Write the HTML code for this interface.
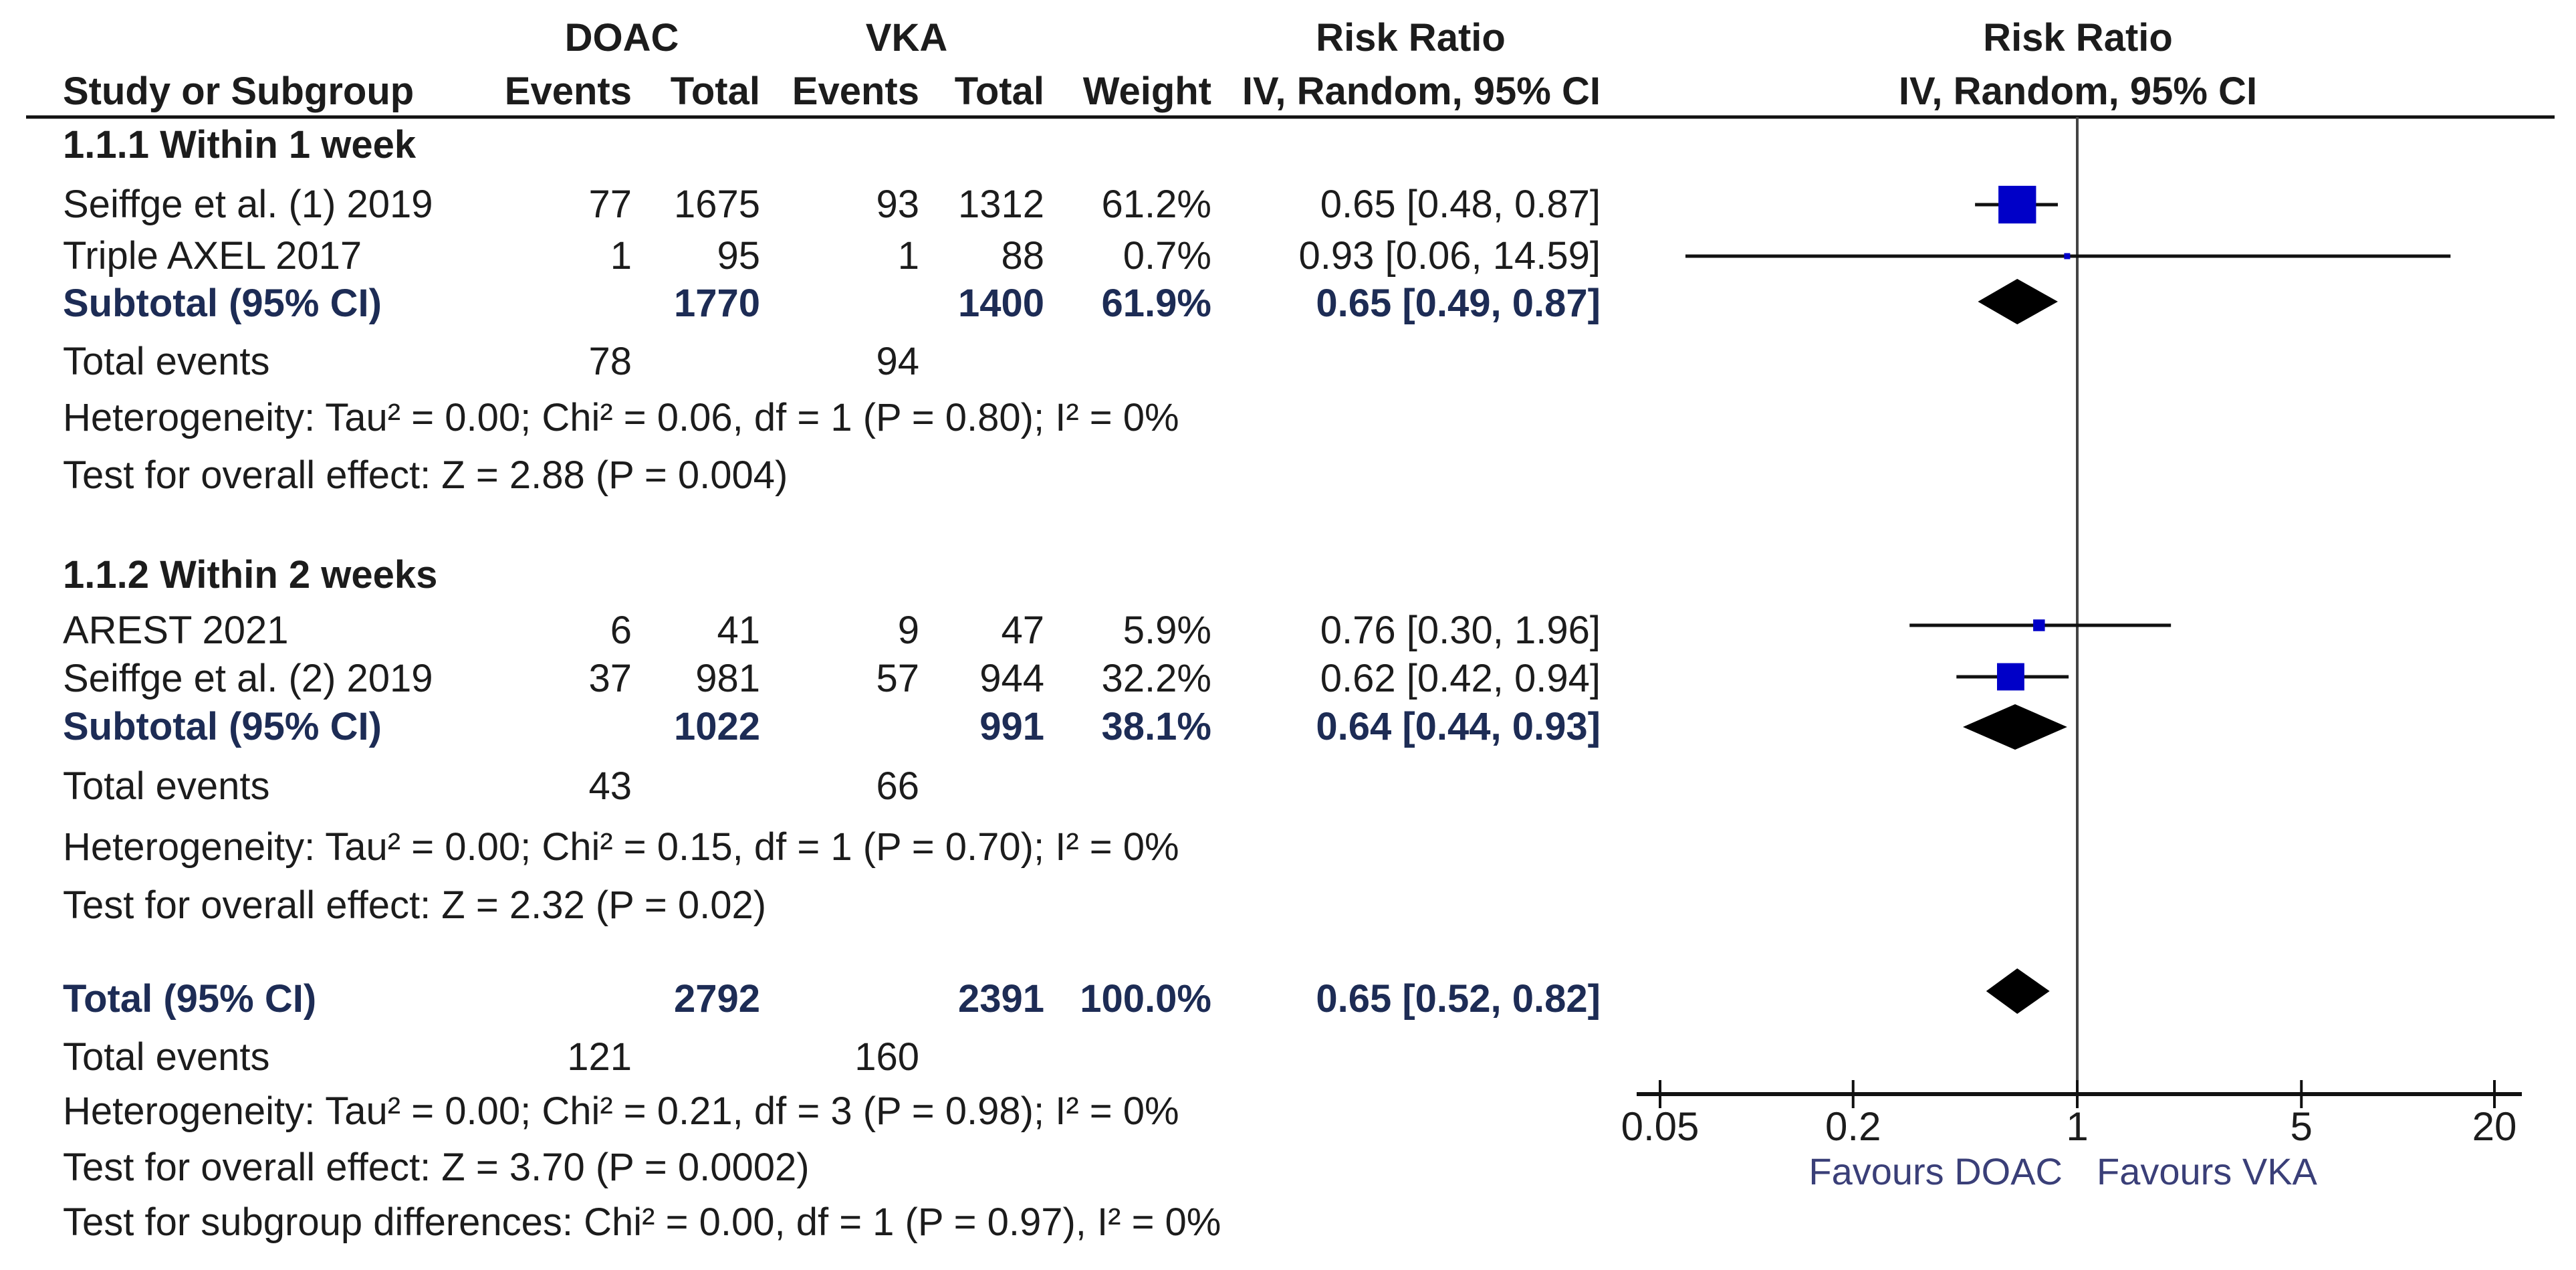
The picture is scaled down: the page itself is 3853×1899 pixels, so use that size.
<!DOCTYPE html>
<html><head><meta charset="utf-8"><style>
html,body{margin:0;padding:0;background:#fff;}
#root{position:relative;width:3853px;height:1899px;overflow:hidden;font-family:"Liberation Sans",Arial,sans-serif;font-size:58px;color:#1c1c1c;}
.t{position:absolute;white-space:nowrap;line-height:66px;height:66px;}
.b{font-weight:bold;}
.s{font-weight:bold;color:#1d2c55;}
.c{transform:translateX(-50%);}
svg{position:absolute;left:0;top:0;}
</style></head><body>
<div id="root">
<svg id="plot" width="3853" height="1899"></svg>
</div>
<script>
// ---- data ----
const studies = ["Seiffge et al. (1) 2019","Triple AXEL 2017","AREST 2021","Seiffge et al. (2) 2019"];
const studyRR = [0.65,0.93,0.76,0.62];
const studyLo = [0.48,0.06,0.30,0.42];
const studyHi = [0.87,14.59,1.96,0.94];
const studyWeight = [61.2,0.7,5.9,32.2];
const studyRowY = [306,383,935,1012];
const pooledNames = ["Subtotal 1.1.1","Subtotal 1.1.2","Total"];
const pooledRR = [0.65,0.64,0.65];
const pooledLo = [0.49,0.44,0.52];
const pooledHi = [0.87,0.93,0.82];
const pooledRowY = [451,1087,1482];
const tickValues = [0.05,0.2,1,5,20];
const tickLabels = ["0.05","0.2","1","5","20"];

// table text rows: [text, x, y, align, cls]
const rows = [
 ["DOAC",930,57,"c","b"],["VKA",1356,57,"c","b"],["Risk Ratio",2110,57,"c","b"],["Risk Ratio",3108,57,"c","b"],
 ["Study or Subgroup",94,137,"l","b"],["Events",945,137,"r","b"],["Total",1137,137,"r","b"],["Events",1375,137,"r","b"],["Total",1562,137,"r","b"],["Weight",1812,137,"r","b"],["IV, Random, 95% CI",2394,137,"r","b"],["IV, Random, 95% CI",3108,137,"c","b"],
 ["1.1.1 Within 1 week",94,217,"l","b"],
 ["Seiffge et al. (1) 2019",94,306,"l",""],["77",945,306,"r",""],["1675",1137,306,"r",""],["93",1375,306,"r",""],["1312",1562,306,"r",""],["61.2%",1812,306,"r",""],["0.65 [0.48, 0.87]",2394,306,"r",""],
 ["Triple AXEL 2017",94,383,"l",""],["1",945,383,"r",""],["95",1137,383,"r",""],["1",1375,383,"r",""],["88",1562,383,"r",""],["0.7%",1812,383,"r",""],["0.93 [0.06, 14.59]",2394,383,"r",""],
 ["Subtotal (95% CI)",94,454,"l","s"],["1770",1137,454,"r","s"],["1400",1562,454,"r","s"],["61.9%",1812,454,"r","s"],["0.65 [0.49, 0.87]",2394,454,"r","s"],
 ["Total events",94,541,"l",""],["78",945,541,"r",""],["94",1375,541,"r",""],
 ["Heterogeneity: Tau² = 0.00; Chi² = 0.06, df = 1 (P = 0.80); I² = 0%",94,625,"l",""],
 ["Test for overall effect: Z = 2.88 (P = 0.004)",94,711,"l",""],
 ["1.1.2 Within 2 weeks",94,860,"l","b"],
 ["AREST 2021",94,943,"l",""],["6",945,943,"r",""],["41",1137,943,"r",""],["9",1375,943,"r",""],["47",1562,943,"r",""],["5.9%",1812,943,"r",""],["0.76 [0.30, 1.96]",2394,943,"r",""],
 ["Seiffge et al. (2) 2019",94,1015,"l",""],["37",945,1015,"r",""],["981",1137,1015,"r",""],["57",1375,1015,"r",""],["944",1562,1015,"r",""],["32.2%",1812,1015,"r",""],["0.62 [0.42, 0.94]",2394,1015,"r",""],
 ["Subtotal (95% CI)",94,1087,"l","s"],["1022",1137,1087,"r","s"],["991",1562,1087,"r","s"],["38.1%",1812,1087,"r","s"],["0.64 [0.44, 0.93]",2394,1087,"r","s"],
 ["Total events",94,1176,"l",""],["43",945,1176,"r",""],["66",1375,1176,"r",""],
 ["Heterogeneity: Tau² = 0.00; Chi² = 0.15, df = 1 (P = 0.70); I² = 0%",94,1267,"l",""],
 ["Test for overall effect: Z = 2.32 (P = 0.02)",94,1354,"l",""],
 ["Total (95% CI)",94,1494,"l","s"],["2792",1137,1494,"r","s"],["2391",1562,1494,"r","s"],["100.0%",1812,1494,"r","s"],["0.65 [0.52, 0.82]",2394,1494,"r","s"],
 ["Total events",94,1581,"l",""],["121",945,1581,"r",""],["160",1375,1581,"r",""],
 ["Heterogeneity: Tau² = 0.00; Chi² = 0.21, df = 3 (P = 0.98); I² = 0%",94,1662,"l",""],
 ["Test for overall effect: Z = 3.70 (P = 0.0002)",94,1746,"l",""],
 ["Test for subgroup differences: Chi² = 0.00, df = 1 (P = 0.97), I² = 0%",94,1828,"l",""]
];

const root=document.getElementById('root');
rows.forEach(r=>{
  const d=document.createElement('div');
  d.className='t '+r[4]+(r[3]==='c'?' c':'');
  d.textContent=r[0];
  d.style.top=(r[2]-33)+'px';
  if(r[3]==='r'){d.style.right=(3853-r[1])+'px';}else{d.style.left=r[1]+'px';}
  
  
  root.appendChild(d);
});

// ---- axis ----
const NS='http://www.w3.org/2000/svg';
const svg=document.getElementById('plot');
const cx=3107, k=208.3;
function x(v){return cx+k*Math.log(v);}
function el(tag,attrs,name){const e=document.createElementNS(NS,tag);for(const a in attrs)e.setAttribute(a,attrs[a]);svg.appendChild(e);return e;}

el('line',{x1:39,x2:3821,y1:175,y2:175,stroke:'#111','stroke-width':5},'header-rule');
el('line',{x1:x(1),x2:x(1),y1:175,y2:1636,stroke:'#444','stroke-width':4},'null-line');
el('line',{x1:2448,x2:3772,y1:1636,y2:1636,stroke:'#111','stroke-width':6},'x-axis');
tickValues.forEach((v,i)=>{
  el('line',{x1:x(v),x2:x(v),y1:1615,y2:1657,stroke:'#111','stroke-width':4},'x-tick');
  const t=el('text',{x:x(v),y:1705,'text-anchor':'middle','font-size':60,fill:'#1c1c1c','font-family':'Liberation Sans, Arial, sans-serif'},'x-tick-label');
  t.textContent=tickLabels[i];
});
const f1=el('text',{x:3085,y:1771,'text-anchor':'end','font-size':56,fill:'#3a3f78','font-family':'Liberation Sans, Arial, sans-serif'},'favours-doac-label');f1.textContent='Favours DOAC';
const f2=el('text',{x:3136,y:1771,'text-anchor':'start','font-size':56,fill:'#3a3f78','font-family':'Liberation Sans, Arial, sans-serif'},'favours-vka-label');f2.textContent='Favours VKA';

// ---- study markers ----
studies.forEach((s,i)=>{
  const y=studyRowY[i];
  el('line',{x1:x(studyLo[i]),x2:x(studyHi[i]),y1:y,y2:y,stroke:'#111','stroke-width':5},'ci-line');
  const sz=Math.max(9,7.2*Math.sqrt(studyWeight[i]));
  el('rect',{x:x(studyRR[i])-sz/2,y:y-sz/2,width:sz,height:sz,fill:'#0000c8'},'study-marker');
});
pooledNames.forEach((n,i)=>{
  const y=pooledRowY[i],h=34;
  el('polygon',{points:`${x(pooledLo[i])},${y} ${x(pooledRR[i])},${y-h} ${x(pooledHi[i])},${y} ${x(pooledRR[i])},${y+h}`,fill:'#000'},'pooled-diamond');
});
</script>
</body></html>
